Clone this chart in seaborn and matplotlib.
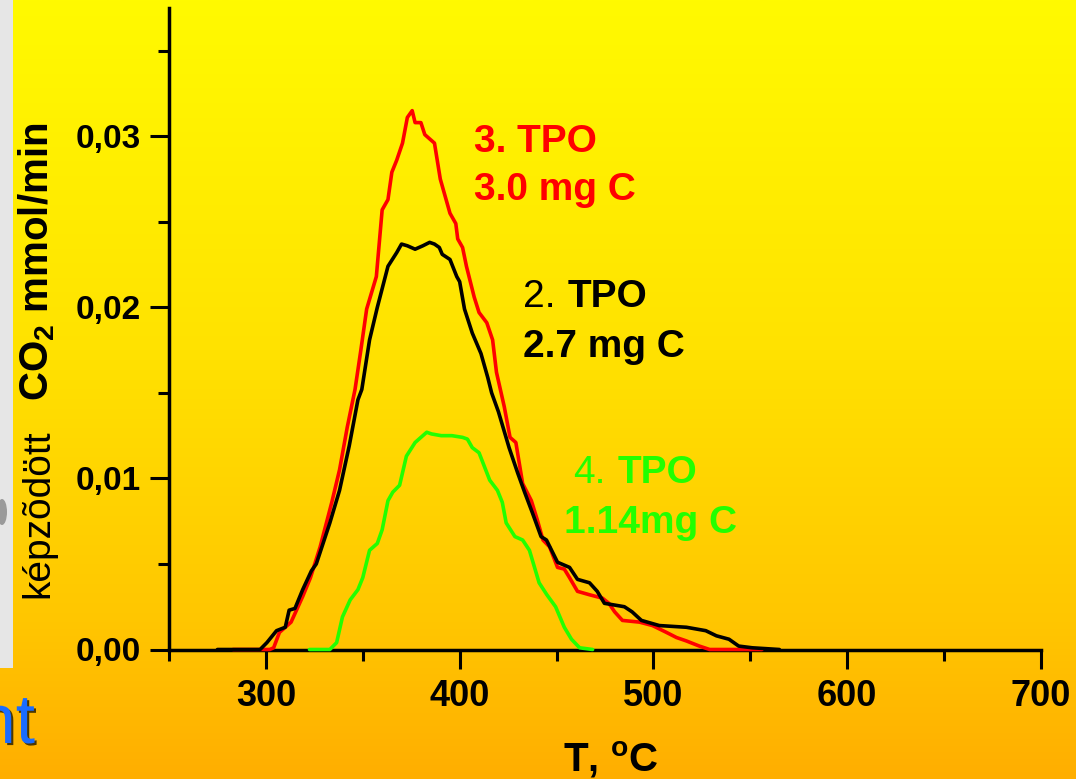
import numpy as np
import pandas as pd
import matplotlib
matplotlib.use("Agg")
import matplotlib.pyplot as plt
import matplotlib.patheffects as pe
import seaborn as sns
from matplotlib.patches import Rectangle, Ellipse
from matplotlib.ticker import FixedLocator, MultipleLocator, FuncFormatter

# ---------------- data ----------------
tpo3_T = [283, 302, 304, 307, 313, 319, 323, 328, 334, 338, 342, 346, 349, 352, 357,
          360, 363, 365, 367.5, 370.5, 373, 375.5, 377, 380, 382, 387, 390, 395, 398,
          399, 401.5, 403.5, 407.5, 410, 414, 417, 419, 423, 426, 429, 432.5, 437, 440,
          443, 446.4, 450.5, 454, 456.7, 460.8, 467, 473.7, 477, 480, 484, 492.8, 499.5,
          506.7, 511.9, 517, 523.7, 529, 556]
tpo3_V = [0, 0, 0.0001, 0.0010, 0.0016, 0.0031, 0.0042, 0.0060, 0.0086, 0.0105, 0.0130,
          0.0152, 0.0175, 0.0199, 0.0218, 0.0257, 0.0263, 0.0279, 0.0286, 0.0296, 0.0311,
          0.0315, 0.0308, 0.0308, 0.0301, 0.0296, 0.0275, 0.0255, 0.0249, 0.0240, 0.0235,
          0.0224, 0.0206, 0.0197, 0.0191, 0.0181, 0.0162, 0.0142, 0.0124, 0.0121, 0.0097,
          0.0087, 0.0076, 0.0064, 0.0060, 0.0048, 0.0047, 0.0042, 0.0034, 0.0032, 0.0030,
          0.0027, 0.0022, 0.0017, 0.0016, 0.0014, 0.0010, 0.0007, 0.0005, 0.0002, 0, 0]

tpo2_T = [275, 297, 300.5, 305.5, 310, 312, 315, 319, 323.5, 326, 333, 338, 343, 347.5,
          349.5, 353.5, 357.5, 363, 367.5, 370, 373, 377, 381, 384.5, 387, 389.5, 391,
          395, 398.5, 400, 402.5, 406.5, 411, 414.5, 416.5, 420, 425.5, 430, 433.5, 437.5,
          442, 444.8, 450.5, 456.7, 460.8, 467, 471, 474.7, 485, 489, 493.8, 503, 517,
          527, 532.5, 539, 544, 551, 565]
tpo2_V = [0, 0, 0.0004, 0.0011, 0.0013, 0.0023, 0.0024, 0.0035, 0.0046, 0.0050, 0.0074,
          0.0093, 0.0119, 0.0146, 0.0152, 0.0181, 0.0200, 0.0224, 0.0232, 0.0237, 0.0236,
          0.0234, 0.0236, 0.0238, 0.0237, 0.0235, 0.0231, 0.0228, 0.0218, 0.0215, 0.0199,
          0.0185, 0.0173, 0.0159, 0.0150, 0.0139, 0.0118, 0.0103, 0.0092, 0.0080, 0.0066,
          0.0064, 0.0051, 0.0048, 0.0041, 0.0039, 0.0034, 0.0027, 0.0025, 0.0022, 0.0017,
          0.0014, 0.0013, 0.0011, 0.0008, 0.0006, 0.0002, 0.0001, 0]

tpo4_T = [322.5, 333, 336.5, 339.5, 343.5, 347.5, 350, 353.5, 357.5, 360, 363, 365.5, 369,
          372.5, 377, 383, 385.5, 390.5, 396, 401.5, 404, 406.5, 410, 415.5, 419.5, 422,
          424, 428.5, 432.5, 436, 441, 445, 449.5, 454, 457.7, 461.9, 468.6]
tpo4_V = [0, 0, 0.0004, 0.0019, 0.0029, 0.0035, 0.0042, 0.0058, 0.0062, 0.0070, 0.0087,
          0.0092, 0.0096, 0.0113, 0.0121, 0.0127, 0.0126, 0.0125, 0.0125, 0.0124, 0.0123,
          0.0118, 0.0115, 0.0099, 0.0093, 0.0086, 0.0074, 0.0066, 0.0064, 0.0058, 0.0039,
          0.0032, 0.0025, 0.0013, 0.0006, 0.0001, 0]

series_names = ["3. TPO", "2. TPO", "4. TPO"]
series_colors = ["#ff0000", "#000000", "#22ff00"]
x_major = [300, 400, 500, 600, 700]
y_major = [0.00, 0.01, 0.02, 0.03]

# ---------------- style ----------------
sns.set_theme(style="ticks")
plt.rcParams["font.family"] = ["Liberation Sans", "DejaVu Sans"]
plt.rcParams["mathtext.fontset"] = "custom"
plt.rcParams["mathtext.rm"] = "Liberation Sans:bold"
plt.rcParams["mathtext.it"] = "Liberation Sans:bold"
plt.rcParams["mathtext.bf"] = "Liberation Sans:bold"
plt.rcParams["text.color"] = "black"
plt.rcParams["axes.labelcolor"] = "black"
plt.rcParams["xtick.color"] = "black"
plt.rcParams["ytick.color"] = "black"

W, H = 1076, 779
fig = plt.figure(figsize=(W / 100, H / 100), dpi=100)


def P(x, y):
    return (x / W, 1 - y / H)


# background gradient (yellow -> orange)
bg = fig.add_axes([0, 0, 1, 1], zorder=-10)
stops_pos = np.array([0.0, 0.45, 0.8, 1.0])
stops_g = np.array([250, 226, 198, 174])
t = np.linspace(0, 1, 400)
g = np.interp(t, stops_pos, stops_g)
img = np.zeros((400, 2, 3))
img[:, :, 0] = 1.0
img[:, :, 1] = (g / 255.0)[:, None]
img[:, :, 2] = 0.0
bg.imshow(img, aspect="auto", extent=[0, W, H, 0], interpolation="bilinear")
bg.add_patch(Rectangle((0, 0), 13, 668, color="#e6e6e6", lw=0))
bg.add_patch(Ellipse((2, 512), 10, 26, color="#9a9a9a", lw=0))
bg.set_xlim(0, W)
bg.set_ylim(H, 0)
bg.axis("off")

# slide fragment text
fig.text(*P(35, 743), "nt", color="#1a6cff", fontsize=50, ha="right", va="baseline",
         family=["Liberation Sans"],
         path_effects=[pe.withSimplePatchShadow(offset=(1.5, -1.5),
                                                shadow_rgbFace="#3a2a00", alpha=0.9)])

# ---------------- main axes ----------------
ax = fig.add_axes([169 / W, (H - 649.5) / H, (1041 - 169) / W, (649.5 - 8) / H])
ax.patch.set_alpha(0)

frames = []
for name, T, V in zip(series_names, [tpo3_T, tpo2_T, tpo4_T], [tpo3_V, tpo2_V, tpo4_V]):
    frames.append(pd.DataFrame({"T": T, "V": V, "series": name}))
df = pd.concat(frames, ignore_index=True)

sns.lineplot(data=df, x="T", y="V", hue="series", hue_order=series_names,
             palette=dict(zip(series_names, series_colors)), sort=False,
             estimator=None, legend=False, linewidth=2.6, ax=ax)
for ln in ax.lines:
    ln.set_clip_on(False)
    ln.set_zorder(3)

ax.set_xlim(250, 700)
ax.set_ylim(0, 0.0375)
ax.xaxis.set_major_locator(FixedLocator(x_major))
ax.xaxis.set_minor_locator(MultipleLocator(50))
ax.yaxis.set_major_locator(FixedLocator(y_major))
ax.yaxis.set_minor_locator(MultipleLocator(0.005))
ax.yaxis.set_major_formatter(FuncFormatter(lambda v, p: f"{v:.2f}".replace(".", ",")))
ax.xaxis.set_major_formatter(FuncFormatter(lambda v, p: f"{v:.0f}"))

for s in ["top", "right"]:
    ax.spines[s].set_visible(False)
for s in ["left", "bottom"]:
    ax.spines[s].set_linewidth(2.5)
    ax.spines[s].set_color("black")

ax.tick_params(axis="both", which="major", direction="out", length=14, width=2.2,
               color="black", labelcolor="black")
ax.tick_params(axis="both", which="minor", direction="out", length=8, width=2.2,
               color="black")
ax.tick_params(axis="x", which="major", labelsize=26, pad=7)
ax.tick_params(axis="y", which="major", labelsize=24, pad=6)
for lab in ax.get_xticklabels() + ax.get_yticklabels():
    lab.set_fontweight("bold")
    lab.set_color("black")
ax.set_xlabel("")
ax.set_ylabel("")

# axis titles
fig.text(*P(563, 772), r"T, $^{\mathrm{o}}$C", fontsize=29, fontweight="bold",
         ha="left", va="baseline", color="black")
fig.text(*P(48, 598), "képzõdött", fontsize=28, rotation=90, rotation_mode="anchor",
         ha="left", va="baseline", color="black")
fig.text(*P(48, 401), r"CO$_{2}$ mmol/min", fontsize=29, fontweight="bold", rotation=90,
         rotation_mode="anchor", ha="left", va="baseline", color="black")

# annotations
fs = 28
fig.text(*P(474, 152), "3. TPO", color="#ff0000", fontsize=fs, fontweight="bold")
fig.text(*P(474, 200), "3.0 mg C", color="#ff0000", fontsize=fs, fontweight="bold")
fig.text(*P(523, 307), "2.", color="black", fontsize=fs)
fig.text(*P(568, 307), "TPO", color="black", fontsize=fs, fontweight="bold")
fig.text(*P(523, 357), "2.7 mg C", color="black", fontsize=fs, fontweight="bold")
fig.text(*P(573, 483), "4.", color="#22ff00", fontsize=fs)
fig.text(*P(618, 483), "TPO", color="#22ff00", fontsize=fs, fontweight="bold")
fig.text(*P(564, 533), "1.14mg C", color="#22ff00", fontsize=fs, fontweight="bold")

fig.savefig("out.png", dpi=100)
